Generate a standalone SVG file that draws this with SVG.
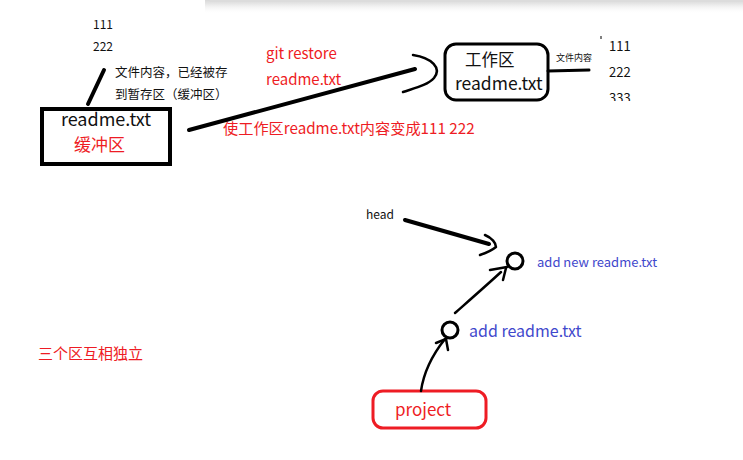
<svg xmlns="http://www.w3.org/2000/svg" width="743" height="460" viewBox="0 0 743 460">
<defs>
<linearGradient id="sh" x1="0" y1="0" x2="0" y2="1">
<stop offset="0" stop-color="#d8d8d8"/>
<stop offset="0.3" stop-color="#e8e8e8"/>
<stop offset="1" stop-color="#ffffff" stop-opacity="0"/>
</linearGradient>
<clipPath id="c333"><rect x="600" y="85" width="40" height="16"/></clipPath>
<style>
text{font-family:"Microsoft YaHei","Noto Sans CJK SC","Liberation Sans",sans-serif}
.k{fill:#111}
.r{fill:#ee1c24}
.b{fill:#3f48cc}
.ln{stroke:#000;fill:none;stroke-linecap:round;stroke-linejoin:round}
</style>
</defs>
<rect width="743" height="460" fill="#fff"/>
<rect x="205" y="0" width="538" height="14" fill="url(#sh)"/>
<rect x="210" y="0" width="533" height="2" fill="#dcdcdc"/>

<g id="staging-note">
<text class="k" x="93" y="29" font-size="12">111</text>
<text class="k" x="93" y="51" font-size="12">222</text>
<text class="k" x="115" y="77" font-size="12.5">文件内容，已经被存</text>
<text class="k" x="115" y="99" font-size="12.5">到暂存区（缓冲区）</text>
</g>

<g id="staging">
<rect x="42" y="109" width="128" height="55" fill="none" stroke="#000" stroke-width="4"/>
<text class="k" x="106" y="126" font-size="18" text-anchor="middle">readme.txt</text>
<text class="r" x="74" y="151" font-size="17">缓冲区</text>
</g>

<g id="restore-label">
<text class="r" x="266" y="59" font-size="15">git restore</text>
<text class="r" x="266" y="85" font-size="15">readme.txt</text>
<text class="r" x="223" y="134" font-size="15.2">使工作区readme.txt内容变成111 222</text>
</g>

<g id="workdir">
<rect x="445" y="44" width="103" height="56" rx="11" fill="none" stroke="#000" stroke-width="3"/>
<text class="k" x="465" y="66" font-size="16.5">工作区</text>
<text class="k" x="455" y="90" font-size="17.5">readme.txt</text>
</g>

<g id="workdir-content">
<text class="k" x="556" y="61" font-size="9">文件内容</text>
<line x1="601" y1="36" x2="601" y2="39" stroke="#000" stroke-width="1"/>
<text class="k" x="609" y="51" font-size="13">111</text>
<text class="k" x="609" y="77" font-size="13">222</text>
<text class="k" x="609" y="103" font-size="13" clip-path="url(#c333)">333</text>
</g>

<g id="head-label">
<text class="k" x="366" y="219" font-size="12">head</text>
</g>

<g id="commit2">
<circle cx="515" cy="261" r="8" fill="none" stroke="#000" stroke-width="3"/>
<text class="b" x="537" y="267" font-size="13">add new readme.txt</text>
</g>

<g id="commit1">
<circle cx="450" cy="330" r="8" fill="none" stroke="#000" stroke-width="3"/>
<text class="b" x="469" y="337" font-size="16">add readme.txt</text>
</g>

<g id="project">
<rect x="373" y="391" width="113" height="37" rx="10" fill="none" stroke="#ee1c24" stroke-width="3"/>
<text class="r" x="395" y="416" font-size="17">project</text>
</g>

<g id="independent-note">
<text class="r" x="38" y="359" font-size="15">三个区互相独立</text>
</g>

<g id="connectors">
<line class="ln" x1="104" y1="70" x2="88" y2="104" stroke-width="4"/>
<line class="ln" x1="189" y1="130" x2="415" y2="69" stroke-width="4"/>
<path class="ln" d="M413,55 C432,58 442,68 434,78 C428,85 415,88 403,92" stroke-width="2.5"/>
<line class="ln" x1="548" y1="71" x2="589" y2="70" stroke-width="3"/>
<line class="ln" x1="405" y1="220" x2="489" y2="244" stroke-width="4"/>
<path class="ln" d="M485,235 C492,238 496,243 496,247 C491,251 486,253 480,255" stroke-width="2.5"/>
<path class="ln" d="M455,313 C472,298 488,284 501,272" stroke-width="2.5"/>
<line class="ln" x1="490" y1="270" x2="507" y2="267" stroke-width="2.5"/>
<line class="ln" x1="506" y1="268" x2="503" y2="280" stroke-width="2.5"/>
<path class="ln" d="M421,391 C424,370 433,354 445,339" stroke-width="2.5"/>
<line class="ln" x1="436" y1="343" x2="446" y2="339" stroke-width="2.5"/>
<line class="ln" x1="446" y1="339" x2="448" y2="350" stroke-width="2.5"/>
</g>
</svg>
